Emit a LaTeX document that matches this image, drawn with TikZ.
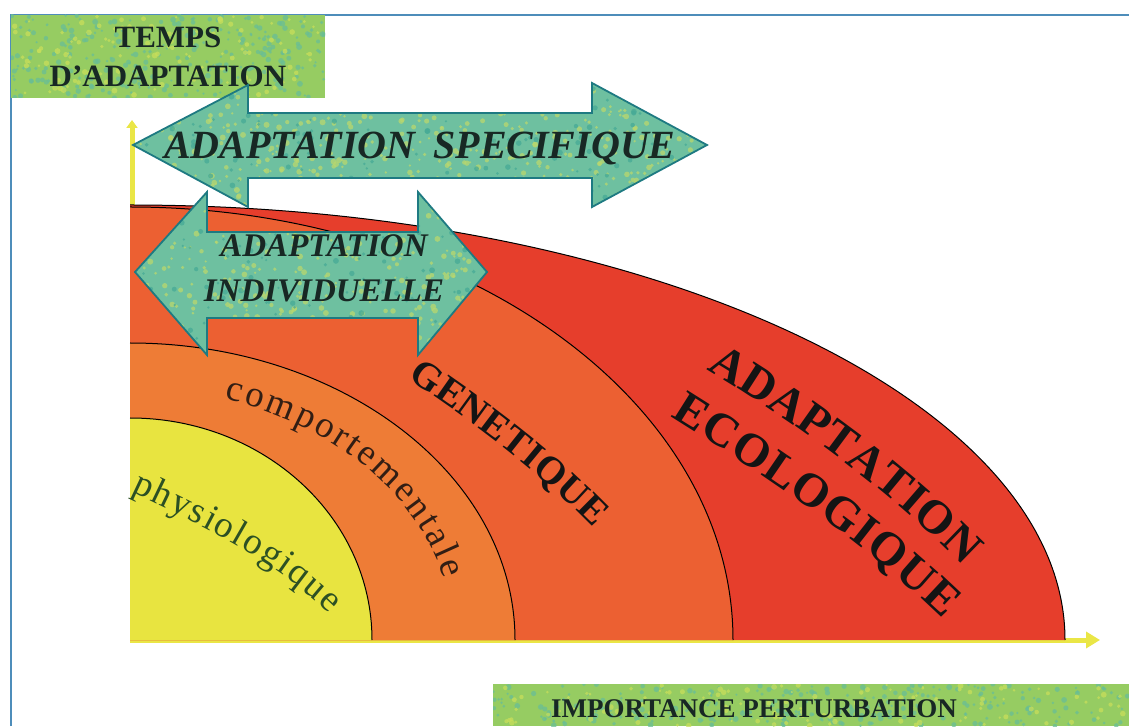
\documentclass[tikz,border=0pt]{standalone}
\usepackage{fontspec}
\setmainfont{Liberation Serif}
\usetikzlibrary{arrows.meta,decorations.text}

\definecolor{framebl}{RGB}{78,141,186}
\definecolor{boxgreen}{RGB}{150,204,98}
\definecolor{boxdots}{RGB}{105,190,150}
\definecolor{boxdotsb}{RGB}{200,222,90}
\definecolor{arrowfill}{RGB}{110,192,160}
\definecolor{arrowdots}{RGB}{185,215,110}
\definecolor{arrowdotsb}{RGB}{70,170,150}
\definecolor{arrowline}{RGB}{30,122,130}
\definecolor{axisyel}{RGB}{234,230,70}
\definecolor{physio}{RGB}{232,228,64}
\definecolor{comport}{RGB}{238,124,54}
\definecolor{genet}{RGB}{236,96,50}
\definecolor{ecolo}{RGB}{230,62,44}
\definecolor{inkdark}{RGB}{24,40,36}
\definecolor{inkgreen}{RGB}{44,80,36}
\definecolor{inkbrown}{RGB}{50,30,20}
\definecolor{inkblack}{RGB}{20,20,20}

% random speckles inside the current clip: xmin, xmax, ymin, ymax, count, colour
\newcommand\speckledots[6]{%
  \foreach \k in {1,...,#5}{%
    \pgfmathsetmacro\sx{#1+rnd*(#2-#1)}%
    \pgfmathsetmacro\sy{#3+rnd*(#4-#3)}%
    \pgfmathsetmacro\sr{1.2+rnd*1.8}%
    \fill[#6, opacity=0.75] (\sx,\sy) circle[radius=\sr];
  }}

\begin{document}
\begin{tikzpicture}[x=1pt,y=1pt,
  labelbox/.style={fill=boxgreen, inner sep=0pt, draw=none},
  boxtext/.style={font=\bfseries\fontsize{#1}{39}\selectfont, text=inkdark, align=center, inner sep=0pt},
  arrowbody/.style={fill=arrowfill},
  arrowedge/.style={draw=arrowline, line width=1.8pt, line join=miter},
  arrowtext/.style={font=\bfseries\itshape\fontsize{#1}{45}\selectfont, text=inkdark, align=center, inner sep=0pt},
  zoneedge/.style={draw=black, line width=1pt},
  axisline/.style={draw=axisyel, line width=5pt},
  curvedlabel/.style 2 args={decorate, decoration={text along path, text align={fit to path}, text color=#2, text={#1}}},
]
\useasboundingbox (0,0) rectangle (1129,726);
\fill[white] (0,0) rectangle (1129,726);
\pgfmathsetseed{4117}

% origin of the two axes
\coordinate (O) at (130,86);
\coordinate (xend) at (1100,86);
\coordinate (yend) at (132,606);

% axes
\draw[axisline, -{Triangle[length=14pt,width=16pt]}] (O) -- (xend);
\draw[axisline, -{Triangle[length=8pt,width=11pt]}] (132,86) -- (yend);

% nested quarter ellipses, outermost first
\fill[ecolo] (O) -- (1065,86) arc[start angle=0, end angle=90, x radius=935, y radius=435] -- cycle;
\draw[zoneedge] (1065,86) arc[start angle=0, end angle=90, x radius=935, y radius=435];
\fill[genet] (O) -- (733,86) arc[start angle=0, end angle=90, x radius=603, y radius=433] -- cycle;
\draw[zoneedge] (733,86) arc[start angle=0, end angle=90, x radius=603, y radius=433];
\fill[comport] (O) -- (515,86) arc[start angle=0, end angle=90, x radius=385, y radius=297] -- cycle;
\draw[zoneedge] (515,86) arc[start angle=0, end angle=90, x radius=385, y radius=297];
\fill[physio] (O) -- (372,86) arc[start angle=0, end angle=90, x radius=242, y radius=222] -- cycle;
\draw[zoneedge] (372,86) arc[start angle=0, end angle=90, x radius=242, y radius=222];

% curved labels inside the zones
\path[curvedlabel={|\fontsize{37}{37}\selectfont|comportementale}{inkbrown}]
  ([shift={(130,86)}]73:324 and 252) arc[start angle=73, end angle=14, x radius=324, y radius=252];
\path[curvedlabel={|\fontsize{37}{37}\selectfont|physiologique}{inkgreen}]
  (131,234) .. controls (199,202) and (276,165) .. (329,112);
\path[curvedlabel={|\bfseries\fontsize{39}{39}\selectfont|GENETIQUE}{inkblack}]
  (407.6,347.5) .. controls (474,303) and (538,255.5) .. (594,198);
\path[curvedlabel={|\bfseries\fontsize{47.5}{47.5}\selectfont|ADAPTATION}{inkblack}]
  (706.6,356.8) .. controls (800.9,300.2) and (886.2,237.6) .. (964,159.8);
\path[curvedlabel={|\bfseries\fontsize{47.5}{47.5}\selectfont|ECOLOGIQUE}{inkblack}]
  (670.7,309.6) .. controls (768.2,248.6) and (860.4,186.7) .. (943.1,106.8);

% frame
\draw[framebl, line width=2.5pt] (11,0) -- (11,711) -- (1129,711);

% axis titles on speckled green panels
\node[labelbox, minimum width=314, minimum height=83, anchor=north west] (tempsbox) at (11,711) {};
\begin{scope}
  \clip (11,628) rectangle (325,711);
  \speckledots{11}{325}{628}{711}{260}{boxdots}
  \speckledots{11}{325}{628}{711}{120}{boxdotsb}
\end{scope}
\node[boxtext=31] (tempstxt) at (168,669) {TEMPS\\D'ADAPTATION};
\node[labelbox, minimum width=636, minimum height=42, anchor=south west] (impbox) at (493,0) {};
\begin{scope}
  \clip (493,0) rectangle (1129,42);
  \speckledots{493}{1129}{0}{42}{260}{boxdots}
  \speckledots{493}{1129}{0}{42}{120}{boxdotsb}
\end{scope}
\node[boxtext=27, anchor=base] (imptxt) at (754,9) {IMPORTANCE PERTURBATION};

% double arrow: specific adaptation
\def\specpath{(133,581) -- (248,641) -- (248,613) -- (592,613) -- (592,643) -- (707,581)
  -- (592,519) -- (592,548) -- (248,548) -- (248,519) -- cycle}
\fill[arrowbody] \specpath;
\begin{scope}
  \clip \specpath;
  \speckledots{133}{707}{519}{643}{520}{arrowdots}
  \speckledots{133}{707}{519}{643}{200}{arrowdotsb}
\end{scope}
\draw[arrowedge] \specpath;
\node[arrowtext=40, anchor=base] (spectxt) at (420,567) {ADAPTATION\hspace{0.45em}SPECIFIQUE};

% double arrow: individual adaptation
\def\indpath{(135,454) -- (207,534) -- (207,494) -- (418,494) -- (418,534) -- (487,454)
  -- (418,371) -- (418,408) -- (207,408) -- (207,371) -- cycle}
\fill[arrowbody] \indpath;
\begin{scope}
  \clip \indpath;
  \speckledots{135}{487}{371}{534}{380}{arrowdots}
  \speckledots{135}{487}{371}{534}{150}{arrowdotsb}
\end{scope}
\draw[arrowedge] \indpath;
\node[arrowtext=33] (indtxt) at (324,458) {ADAPTATION\\INDIVIDUELLE};
\end{tikzpicture}
\end{document}
